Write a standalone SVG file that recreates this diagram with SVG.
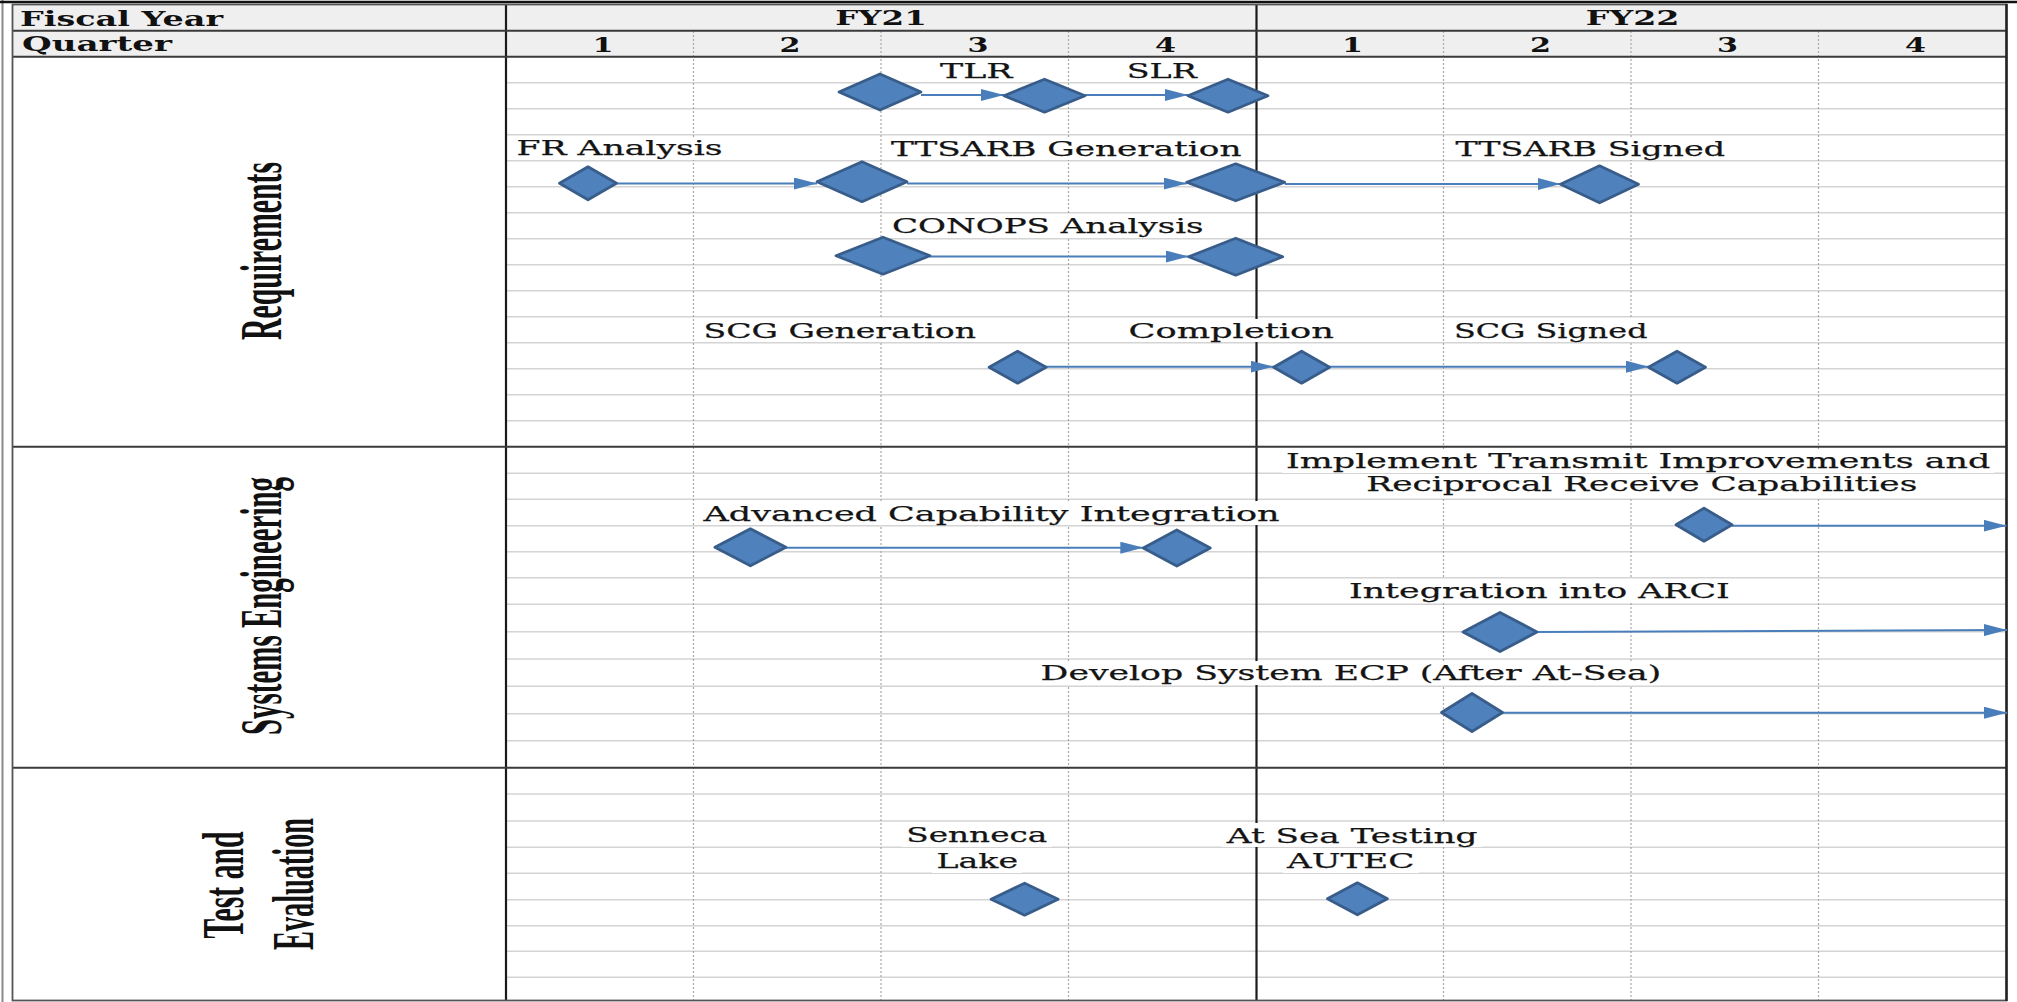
<svg xmlns="http://www.w3.org/2000/svg" width="2017" height="1002" viewBox="0 0 2017 1002">
<style>
.hl{stroke:#d4d4d4;stroke-width:1.5}
.vd{stroke:#a8a8a8;stroke-width:1.2;stroke-dasharray:2 2}
.sec{stroke:#3a3a3a;stroke-width:2}
.blk{stroke:#1a1a1a;stroke-width:2.2}
.dm{fill:#4f81bd;stroke:#385d8a;stroke-width:2.8;stroke-linejoin:round}
.cn{stroke:#4a7ebb;stroke-width:2;fill:none;marker-end:url(#ah)}
.bx{fill:#ffffff}
.lb{font-family:"DejaVu Serif","Liberation Serif",serif;font-size:20.5px;fill:#141414;stroke:#141414;stroke-width:0.25}
.hd{font-family:"DejaVu Serif","Liberation Serif",serif;font-weight:bold;font-size:20px;fill:#111}
.vl{font-family:"Liberation Serif","DejaVu Serif",serif;font-weight:bold;font-size:30px;fill:#111}
</style>
<defs>
<marker id="ah" viewBox="0 0 23 12" refX="23" refY="6" markerWidth="23" markerHeight="12" markerUnits="userSpaceOnUse" orient="auto">
<path d="M0,0 L23,6 L0,12 z" fill="#4a7ebb"/>
</marker>
</defs>
<rect x="0" y="0" width="2017" height="1002" fill="#ffffff"/>
<line x1="2.5" y1="0" x2="2.5" y2="1002" stroke="#8a8a8a" stroke-width="2"/>
<line x1="0" y1="2" x2="2017" y2="2" stroke="#111" stroke-width="2.5"/>
<rect x="12.5" y="5" width="1994" height="51.7" fill="#efefef"/>
<g id="grid">
<g id="rows">
<line class="hl" x1="507" y1="82.7" x2="2005" y2="82.7"/>
<line class="hl" x1="507" y1="108.7" x2="2005" y2="108.7"/>
<line class="hl" x1="507" y1="134.7" x2="2005" y2="134.7"/>
<line class="hl" x1="507" y1="160.7" x2="2005" y2="160.7"/>
<line class="hl" x1="507" y1="186.7" x2="2005" y2="186.7"/>
<line class="hl" x1="507" y1="212.7" x2="2005" y2="212.7"/>
<line class="hl" x1="507" y1="238.7" x2="2005" y2="238.7"/>
<line class="hl" x1="507" y1="264.7" x2="2005" y2="264.7"/>
<line class="hl" x1="507" y1="290.7" x2="2005" y2="290.7"/>
<line class="hl" x1="507" y1="316.7" x2="2005" y2="316.7"/>
<line class="hl" x1="507" y1="342.7" x2="2005" y2="342.7"/>
<line class="hl" x1="507" y1="368.7" x2="2005" y2="368.7"/>
<line class="hl" x1="507" y1="394.7" x2="2005" y2="394.7"/>
<line class="hl" x1="507" y1="420.7" x2="2005" y2="420.7"/>
<line class="hl" x1="507" y1="473.3" x2="2005" y2="473.3"/>
<line class="hl" x1="507" y1="499.3" x2="2005" y2="499.3"/>
<line class="hl" x1="507" y1="525.7" x2="2005" y2="525.7"/>
<line class="hl" x1="507" y1="551.7" x2="2005" y2="551.7"/>
<line class="hl" x1="507" y1="577.7" x2="2005" y2="577.7"/>
<line class="hl" x1="507" y1="604.3" x2="2005" y2="604.3"/>
<line class="hl" x1="507" y1="631.7" x2="2005" y2="631.7"/>
<line class="hl" x1="507" y1="659" x2="2005" y2="659"/>
<line class="hl" x1="507" y1="686.3" x2="2005" y2="686.3"/>
<line class="hl" x1="507" y1="713.7" x2="2005" y2="713.7"/>
<line class="hl" x1="507" y1="740.7" x2="2005" y2="740.7"/>
<line class="hl" x1="507" y1="794" x2="2005" y2="794"/>
<line class="hl" x1="507" y1="821" x2="2005" y2="821"/>
<line class="hl" x1="507" y1="847.3" x2="2005" y2="847.3"/>
<line class="hl" x1="507" y1="873.3" x2="2005" y2="873.3"/>
<line class="hl" x1="507" y1="899.7" x2="2005" y2="899.7"/>
<line class="hl" x1="507" y1="925.7" x2="2005" y2="925.7"/>
<line class="hl" x1="507" y1="951.3" x2="2005" y2="951.3"/>
<line class="hl" x1="507" y1="977.3" x2="2005" y2="977.3"/>
</g>
<g id="quarters">
<line class="vd" x1="693.5" y1="31" x2="693.5" y2="1000"/>
<line class="vd" x1="881" y1="31" x2="881" y2="1000"/>
<line class="vd" x1="1068.5" y1="31" x2="1068.5" y2="1000"/>
<line class="vd" x1="1443.5" y1="31" x2="1443.5" y2="1000"/>
<line class="vd" x1="1631" y1="31" x2="1631" y2="1000"/>
<line class="vd" x1="1818.5" y1="31" x2="1818.5" y2="1000"/>
</g>
<line class="blk" x1="1256.5" y1="5" x2="1256.5" y2="1000"/>
<line class="blk" x1="506" y1="5" x2="506" y2="1000"/>
<line class="sec" x1="12.5" y1="30.7" x2="2006" y2="30.7"/>
<line class="sec" x1="12.5" y1="56.7" x2="2006" y2="56.7"/>
<line class="sec" x1="12.5" y1="446.7" x2="2006" y2="446.7"/>
<line class="sec" x1="12.5" y1="767.7" x2="2006" y2="767.7"/>
<rect x="12.5" y="4.5" width="1994" height="996" fill="none" stroke="#555" stroke-width="1.8"/>
<line x1="2006.5" y1="4" x2="2006.5" y2="1001" stroke="#222" stroke-width="2.5"/>
</g>
<g id="header">
<text class="hd" x="20" y="26" textLength="203" lengthAdjust="spacingAndGlyphs">Fiscal Year</text>
<text class="hd" x="22" y="50.5" textLength="150" lengthAdjust="spacingAndGlyphs">Quarter</text>
<text class="hd" x="835.3" y="25" textLength="91.5" lengthAdjust="spacingAndGlyphs">FY21</text>
<text class="hd" x="1585.8" y="25" textLength="93.7" lengthAdjust="spacingAndGlyphs">FY22</text>
<text class="hd" x="592.5" y="51.5" textLength="21" lengthAdjust="spacingAndGlyphs">1</text>
<text class="hd" x="779.5" y="51.5" textLength="21" lengthAdjust="spacingAndGlyphs">2</text>
<text class="hd" x="967.5" y="51.5" textLength="21" lengthAdjust="spacingAndGlyphs">3</text>
<text class="hd" x="1155" y="51.5" textLength="21" lengthAdjust="spacingAndGlyphs">4</text>
<text class="hd" x="1342" y="51.5" textLength="21" lengthAdjust="spacingAndGlyphs">1</text>
<text class="hd" x="1530" y="51.5" textLength="21" lengthAdjust="spacingAndGlyphs">2</text>
<text class="hd" x="1717" y="51.5" textLength="21" lengthAdjust="spacingAndGlyphs">3</text>
<text class="hd" x="1905" y="51.5" textLength="21" lengthAdjust="spacingAndGlyphs">4</text>
</g>
<g id="sections">
<text class="vl" text-anchor="middle" transform="translate(281,251) rotate(-90) scale(1,1.95)" textLength="178" lengthAdjust="spacingAndGlyphs">Requirements</text>
<text class="vl" text-anchor="middle" transform="translate(281,606) rotate(-90) scale(1,1.95)" textLength="258" lengthAdjust="spacingAndGlyphs">Systems Engineering</text>
<text class="vl" text-anchor="middle" transform="translate(243,885) rotate(-90) scale(1,1.95)" textLength="107" lengthAdjust="spacingAndGlyphs">Test and</text>
<text class="vl" text-anchor="middle" transform="translate(313,884) rotate(-90) scale(1,1.95)" textLength="132" lengthAdjust="spacingAndGlyphs">Evaluation</text>
</g>
<g id="labels">
<rect class="bx" x="936" y="60" width="81" height="22"/>
<rect class="bx" x="1123" y="60" width="78" height="22"/>
<rect class="bx" x="512" y="137" width="215" height="23"/>
<rect class="bx" x="887" y="137" width="359" height="23"/>
<rect class="bx" x="1451" y="137" width="279" height="23"/>
<rect class="bx" x="888" y="214" width="320" height="24"/>
<rect class="bx" x="699" y="319" width="281" height="23"/>
<rect class="bx" x="1124" y="319" width="214" height="23"/>
<rect class="bx" x="1450" y="319" width="202" height="23"/>
<rect class="bx" x="1282" y="449" width="712" height="24"/>
<rect class="bx" x="1362" y="474" width="560" height="24"/>
<rect class="bx" x="699" y="501" width="585" height="24"/>
<rect class="bx" x="1345" y="579" width="389" height="24"/>
<rect class="bx" x="1036" y="661" width="630" height="24"/>
<rect class="bx" x="902" y="823" width="150" height="24"/>
<rect class="bx" x="932" y="849" width="90" height="24"/>
<rect class="bx" x="1222" y="823" width="260" height="24"/>
<rect class="bx" x="1283" y="849" width="136" height="24"/>
<text class="lb" x="940" y="78.3" textLength="72.5" lengthAdjust="spacingAndGlyphs">TLR</text>
<text class="lb" x="1126.8" y="78.3" textLength="70" lengthAdjust="spacingAndGlyphs">SLR</text>
<text class="lb" x="516.5" y="155" textLength="206" lengthAdjust="spacingAndGlyphs">FR Analysis</text>
<text class="lb" x="891" y="156" textLength="350.5" lengthAdjust="spacingAndGlyphs">TTSARB Generation</text>
<text class="lb" x="1455.5" y="156" textLength="269.5" lengthAdjust="spacingAndGlyphs">TTSARB Signed</text>
<text class="lb" x="892" y="233.3" textLength="311.6" lengthAdjust="spacingAndGlyphs">CONOPS Analysis</text>
<text class="lb" x="703.6" y="338.3" textLength="272.4" lengthAdjust="spacingAndGlyphs">SCG Generation</text>
<text class="lb" x="1128.6" y="338.3" textLength="205.4" lengthAdjust="spacingAndGlyphs">Completion</text>
<text class="lb" x="1454" y="338.3" textLength="193.5" lengthAdjust="spacingAndGlyphs">SCG Signed</text>
<text class="lb" x="1286" y="468" textLength="704.4" lengthAdjust="spacingAndGlyphs">Implement Transmit Improvements and</text>
<text class="lb" x="1366.3" y="490.7" textLength="551" lengthAdjust="spacingAndGlyphs">Reciprocal Receive Capabilities</text>
<text class="lb" x="703.6" y="520.7" textLength="575.9" lengthAdjust="spacingAndGlyphs">Advanced Capability Integration</text>
<text class="lb" x="1349" y="598" textLength="380.8" lengthAdjust="spacingAndGlyphs">Integration into ARCI</text>
<text class="lb" x="1040.6" y="680" textLength="620.6" lengthAdjust="spacingAndGlyphs">Develop System ECP (After At-Sea)</text>
<text class="lb" x="906.3" y="842" textLength="141" lengthAdjust="spacingAndGlyphs">Senneca</text>
<text class="lb" x="936.6" y="868" textLength="81.4" lengthAdjust="spacingAndGlyphs">Lake</text>
<text class="lb" x="1226.8" y="842.7" textLength="250.6" lengthAdjust="spacingAndGlyphs">At Sea Testing</text>
<text class="lb" x="1287" y="868" textLength="127.3" lengthAdjust="spacingAndGlyphs">AUTEC</text>
</g>
<g id="connectors">
<line class="cn" x1="921" y1="95" x2="1004" y2="95"/>
<line class="cn" x1="1085" y1="95" x2="1188" y2="95"/>
<line class="cn" x1="616.5" y1="183.5" x2="817" y2="183.5"/>
<line class="cn" x1="907" y1="183.5" x2="1186.6" y2="183.5"/>
<line class="cn" x1="1284.7" y1="184" x2="1560.6" y2="184"/>
<line class="cn" x1="930" y1="256.5" x2="1188.7" y2="256.5"/>
<line class="cn" x1="1046" y1="366.7" x2="1273.6" y2="366.7"/>
<line class="cn" x1="1329.6" y1="366.7" x2="1648.9" y2="366.7"/>
<line class="cn" x1="1732" y1="525.7" x2="2006.5" y2="525.7"/>
<line class="cn" x1="786" y1="547.7" x2="1143.3" y2="547.7"/>
<line class="cn" x1="1537" y1="632" x2="2007" y2="630"/>
<line class="cn" x1="1502.6" y1="712.7" x2="2007" y2="712.7"/>
</g>
<g id="milestones">
<g id="tlr-start"><polygon class="dm" points="839,92 880,74 921,92 880,110"/></g>
<g id="tlr"><polygon class="dm" points="1004,95.7 1044.5,79.2 1085,95.7 1044.5,112.2"/></g>
<g id="slr"><polygon class="dm" points="1188,95.7 1228,79.2 1268,95.7 1228,112.2"/></g>
<g id="fr-analysis"><polygon class="dm" points="559.5,183.3 588,166.8 616.5,183.3 588,199.8"/></g>
<g id="ttsarb-gen-start"><polygon class="dm" points="817,181.7 862,161.7 907,181.7 862,201.7"/></g>
<g id="ttsarb-gen-end"><polygon class="dm" points="1186.7,182.3 1235.7,163.8 1284.7,182.3 1235.7,200.8"/></g>
<g id="ttsarb-signed"><polygon class="dm" points="1560.5,184.3 1599.5,165.8 1638.5,184.3 1599.5,202.8"/></g>
<g id="conops-start"><polygon class="dm" points="836,255.7 883,237.2 930,255.7 883,274.2"/></g>
<g id="conops-end"><polygon class="dm" points="1188.7,256.7 1235.7,238.2 1282.7,256.7 1235.7,275.2"/></g>
<g id="scg-gen"><polygon class="dm" points="989.1,367.2 1017.6,351.2 1046.1,367.2 1017.6,383.2"/></g>
<g id="completion"><polygon class="dm" points="1273.6,367.2 1301.6,351.2 1329.6,367.2 1301.6,383.2"/></g>
<g id="scg-signed"><polygon class="dm" points="1648.5,367.2 1677,351.2 1705.5,367.2 1677,383.2"/></g>
<g id="implement"><polygon class="dm" points="1676,524.7 1704,508.2 1732,524.7 1704,541.2"/></g>
<g id="aci-start"><polygon class="dm" points="714.9,547.3 750.4,528.8 785.9,547.3 750.4,565.8"/></g>
<g id="aci-end"><polygon class="dm" points="1143.3,548 1176.8,530 1210.3,548 1176.8,566"/></g>
<g id="arci"><polygon class="dm" points="1463,632 1500,612.5 1537,632 1500,651.5"/></g>
<g id="ecp"><polygon class="dm" points="1441.5,712.5 1472,693.5 1502.5,712.5 1472,731.5"/></g>
<g id="senneca"><polygon class="dm" points="991.1,899.2 1024.6,883.2 1058.1,899.2 1024.6,915.2"/></g>
<g id="autec"><polygon class="dm" points="1327.4,898.8 1357.4,882.8 1387.4,898.8 1357.4,914.8"/></g>
</g>
</svg>
